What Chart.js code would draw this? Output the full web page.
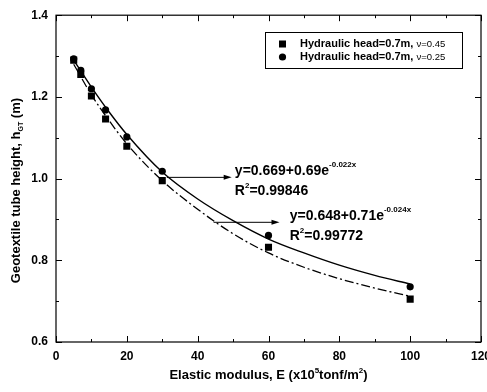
<!DOCTYPE html>
<html>
<head>
<meta charset="utf-8">
<script src="https://cdn.jsdelivr.net/npm/chart.js@4.4.1/dist/chart.umd.min.js"></script>
<style>
  html, body { margin: 0; padding: 0; background: #fff; overflow: hidden; }
  #wrap { width: 500px; height: 392px; }
</style>
</head>
<body>
<div id="wrap"><canvas id="chart" width="500" height="392"></canvas></div>
<script>
// measured points (elastic modulus vs tube height)
const modulusValues = [5, 7, 10, 14, 20, 30, 60, 100];
const heightNu025 = [1.293, 1.265, 1.220, 1.168, 1.102, 1.018, 0.861, 0.735];
const heightNu045 = [1.290, 1.255, 1.202, 1.146, 1.079, 0.995, 0.832, 0.705];

// fitted curves
const fitModulus = [5, 10, 15, 20, 30, 40, 50, 60, 70, 80, 90, 100];
const fitNu025 = [1.290, 1.224, 1.163, 1.108, 1.016, 0.950, 0.897, 0.852, 0.818, 0.788, 0.763, 0.742];
const fitNu045 = [1.280, 1.205, 1.142, 1.085, 0.995, 0.925, 0.865, 0.818, 0.783, 0.755, 0.732, 0.712];

const xTickStep = 20;
const yTickStep = 0.2;
const legendLabels = ['Hydraulic head=0.7m, ', 'Hydraulic head=0.7m, '];
const legendNu = ['\u03bd=0.45', '\u03bd=0.25'];

const boldFont = (size) => `bold ${size}px "Liberation Sans", Arial, sans-serif`;
const plainFont = (size) => `${size}px "Liberation Sans", Arial, sans-serif`;

function toPoints(xs, ys) {
    return xs.map((x, i) => ({ x, y: ys[i] }));
}

// writes a run of text pieces, each with its own font and baseline shift
function drawRuns(ctx, x, y, runs) {
    let cx = x;
    runs.forEach(r => {
        ctx.font = r.font;
        ctx.fillText(r.text, cx, y + (r.dy || 0));
        cx += ctx.measureText(r.text).width;
    });
    return cx - x;
}

function runsWidth(ctx, runs) {
    let w = 0;
    runs.forEach(r => { ctx.font = r.font; w += ctx.measureText(r.text).width; });
    return w;
}

function arrow(ctx, x1, y, x2) {
    ctx.beginPath();
    ctx.moveTo(x1, y);
    ctx.lineTo(x2 - 6, y);
    ctx.stroke();
    ctx.beginPath();
    ctx.moveTo(x2, y);
    ctx.lineTo(x2 - 8, y - 2.5);
    ctx.lineTo(x2 - 8, y + 2.5);
    ctx.closePath();
    ctx.fill();
}

const framePlugin = {
    id: 'frame',
    afterDraw(chart) {
        const { ctx, chartArea: a, scales: { x, y } } = chart;
        ctx.save();
        ctx.strokeStyle = '#000';
        ctx.fillStyle = '#000';
        ctx.lineWidth = 1.2;
        ctx.strokeRect(a.left, a.top, a.right - a.left, a.bottom - a.top);

        // inward ticks on all four sides, minor ones halfway
        ctx.lineWidth = 1;
        ctx.beginPath();
        for (let v = x.min; v <= x.max + 1e-9; v += xTickStep / 2) {
            const px = Math.round(x.getPixelForValue(v)) + 0.5;
            const len = Math.abs((v / xTickStep) - Math.round(v / xTickStep)) < 1e-6 ? 6 : 3;
            ctx.moveTo(px, a.bottom); ctx.lineTo(px, a.bottom - len);
            ctx.moveTo(px, a.top); ctx.lineTo(px, a.top + len);
        }
        for (let k = 0; k <= Math.round((y.max - y.min) / (yTickStep / 2)); k++) {
            const v = y.min + k * yTickStep / 2;
            const py = Math.round(y.getPixelForValue(v)) + 0.5;
            const len = k % 2 === 0 ? 6 : 3;
            ctx.moveTo(a.left, py); ctx.lineTo(a.left + len, py);
            ctx.moveTo(a.right, py); ctx.lineTo(a.right - len, py);
        }
        ctx.stroke();

        // legend box
        const ds = chart.data.datasets;
        const lx = 265, ly = 32, lw = 197, lh = 36;
        ctx.lineWidth = 1;
        ctx.strokeRect(lx + 0.5, ly + 0.5, lw, lh);
        ctx.textBaseline = 'middle';
        ctx.textAlign = 'left';
        [0, 1].forEach(i => {
            const rowY = ly + 12 + i * 13;
            const d = ds[i];
            ctx.beginPath();
            if (d.pointStyle === 'rect') {
                ctx.fillRect(lx + 14, rowY - 3.5, 7, 7);
            } else {
                ctx.arc(lx + 17.5, rowY, 3.6, 0, Math.PI * 2);
                ctx.fill();
            }
            drawRuns(ctx, lx + 35, rowY, [
                { text: legendLabels[i], font: boldFont(11) },
                { text: legendNu[i], font: plainFont(9.5) }
            ]);
        });

        // fit annotations with arrows
        ctx.lineWidth = 1;
        const eq = [
            { from: 31.3, to: 49.6, yv: 1.003, tx: 50.5,
              runs: [{ text: 'y=0.669+0.69e', font: boldFont(14) }, { text: '-0.022x', font: boldFont(8), dy: -7 }],
              r2: '0.99846' },
            { from: 44.5, to: 63.1, yv: 0.893, tx: 66,
              runs: [{ text: 'y=0.648+0.71e', font: boldFont(14) }, { text: '-0.024x', font: boldFont(8), dy: -7 }],
              r2: '0.99772' }
        ];
        eq.forEach(e => {
            const py = y.getPixelForValue(e.yv);
            arrow(ctx, x.getPixelForValue(e.from), py, x.getPixelForValue(e.to));
            const tx = x.getPixelForValue(e.tx);
            drawRuns(ctx, tx, py - 6, e.runs);
            drawRuns(ctx, tx, py + 14, [
                { text: 'R', font: boldFont(14) },
                { text: '2', font: boldFont(8), dy: -6 },
                { text: '=' + e.r2, font: boldFont(14) }
            ]);
        });

        // axis titles
        ctx.textBaseline = 'alphabetic';
        const xt = [
            { text: 'Elastic modulus, E (x10', font: boldFont(13) },
            { text: '5', font: boldFont(8), dy: -6 },
            { text: 'tonf/m', font: boldFont(13) },
            { text: '2', font: boldFont(8), dy: -6 },
            { text: ')', font: boldFont(13) }
        ];
        const xw = runsWidth(ctx, xt);
        drawRuns(ctx, (a.left + a.right) / 2 - xw / 2, 379, xt);

        const yt = [
            { text: 'Geotextile tube height, h', font: boldFont(13) },
            { text: 'GT', font: boldFont(7), dy: 3 },
            { text: ' (m)', font: boldFont(13) }
        ];
        const yw = runsWidth(ctx, yt);
        ctx.translate(20, (a.top + a.bottom) / 2 + 12);
        ctx.rotate(-Math.PI / 2);
        drawRuns(ctx, -yw / 2, 0, yt);
        ctx.restore();
    }
};

new Chart(document.getElementById('chart'), {
    type: 'scatter',
    data: {
        datasets: [
            {
                label: 'nu045',
                data: toPoints(modulusValues, heightNu045),
                pointStyle: 'rect',
                pointRadius: 5,
                backgroundColor: '#000',
                borderColor: '#000',
                borderWidth: 0
            },
            {
                label: 'nu025',
                data: toPoints(modulusValues, heightNu025),
                pointStyle: 'circle',
                pointRadius: 3.6,
                backgroundColor: '#000',
                borderColor: '#000',
                borderWidth: 0
            },
            {
                label: 'fit025',
                data: toPoints(fitModulus, fitNu025),
                showLine: true,
                pointRadius: 0,
                borderColor: '#000',
                borderWidth: 1.4,
                cubicInterpolationMode: 'monotone'
            },
            {
                label: 'fit045',
                data: toPoints(fitModulus, fitNu045),
                showLine: true,
                pointRadius: 0,
                borderColor: '#000',
                borderWidth: 1.3,
                borderDash: [9, 3, 2, 3],
                cubicInterpolationMode: 'monotone'
            }
        ]
    },
    options: {
        responsive: false,
        animation: false,
        layout: { padding: { left: 0, top: 14, right: 19, bottom: 0 } },
        plugins: { legend: { display: false }, tooltip: { enabled: false } },
        scales: {
            x: {
                type: 'linear',
                min: 0,
                max: 120,
                grid: { display: false, drawTicks: false },
                border: { display: false },
                ticks: {
                    stepSize: xTickStep,
                    padding: 7,
                    color: '#000',
                    maxRotation: 0,
                    font: { family: '"Liberation Sans", Arial, sans-serif', weight: 'bold', size: 12 }
                },
                afterFit(scale) { scale.height = 50; }
            },
            y: {
                min: 0.6,
                max: 1.4,
                grid: { display: false, drawTicks: false },
                border: { display: false },
                ticks: {
                    stepSize: yTickStep,
                    padding: 8,
                    color: '#000',
                    callback: (v) => v.toFixed(1),
                    font: { family: '"Liberation Sans", Arial, sans-serif', weight: 'bold', size: 12 }
                },
                afterFit(scale) { scale.width = 56; }
            }
        }
    },
    plugins: [framePlugin]
});
</script>
</body>
</html>
